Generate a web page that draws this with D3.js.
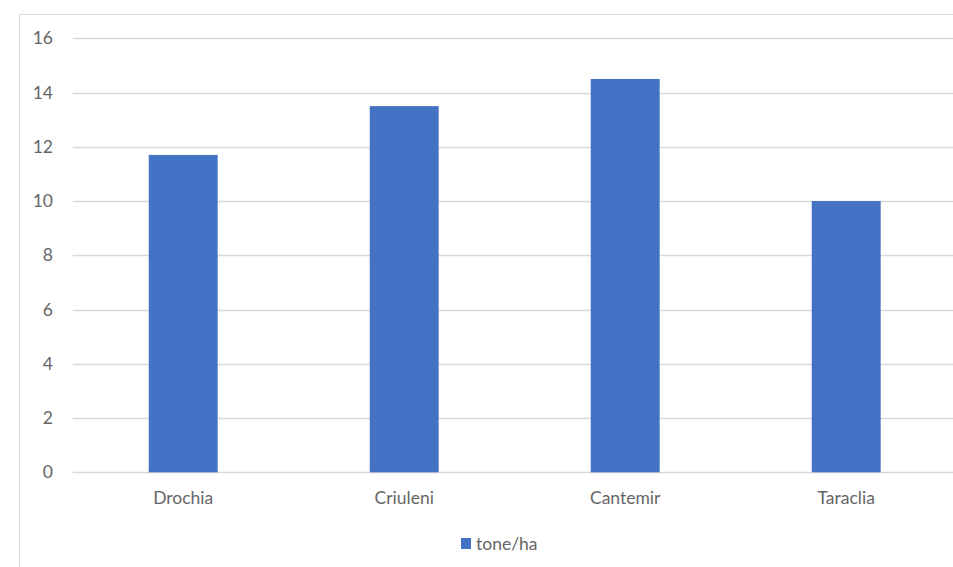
<!DOCTYPE html>
<html><head><meta charset="utf-8">
<script src="https://cdn.jsdelivr.net/npm/d3@7"></script>
<style>body{margin:0;background:#fff;}svg{display:block;}</style>
</head><body>
<svg id="chart" width="953" height="567"></svg>
<script>
const categories = ["Drochia", "Criuleni", "Cantemir", "Taraclia"];
const values = [11.7, 13.5, 14.5, 10.0];
const yTicks = [0, 2, 4, 6, 8, 10, 12, 14, 16];
const seriesName = "tone/ha";

(function () {
const svg = d3.select("#chart");
const font = "Lato, 'Open Sans', sans-serif";
const textColor = "#666666";
const fs = 17.5;

// outer chart border
svg.append("path").attr("d", "M19.5,567 L19.5,14.5 L953,14.5")
  .attr("fill", "none").attr("stroke", "#d9d9d9").attr("stroke-width", 1);

const plotL = 72.7, plotR = 956.7, plotT = 38.3, plotB = 472.3;
const x = d3.scaleBand().domain(categories).range([plotL, plotR]).paddingInner(0.688).paddingOuter(0.344);
const y = d3.scaleLinear().domain([0, 16]).range([plotB, plotT]);

// gridlines
svg.append("g").selectAll("line").data(yTicks).join("line")
  .attr("x1", plotL).attr("x2", plotR)
  .attr("y1", d => Math.round(y(d)) + 0.5).attr("y2", d => Math.round(y(d)) + 0.5)
  .attr("stroke", "#d9d9d9").attr("stroke-width", 1.3);

// y axis labels
const yAxis = d3.axisLeft(y).tickValues(yTicks).tickSize(0).tickPadding(0);
const gy = svg.append("g").attr("transform", `translate(${53},0)`).call(yAxis);
gy.select(".domain").remove();
gy.selectAll("text").attr("font-family", font).attr("font-size", fs).attr("fill", textColor);

// bars
svg.append("g").selectAll("rect").data(values).join("rect")
  .attr("x", (d, i) => x(categories[i]))
  .attr("width", x.bandwidth())
  .attr("y", d => y(d))
  .attr("height", d => y(0) - y(d))
  .attr("fill", "#4472C4");

// x axis labels
const xAxis = d3.axisBottom(x).tickSize(0).tickPadding(0);
const gx = svg.append("g").attr("transform", `translate(0,${plotB})`).call(xAxis);
gx.select(".domain").remove();
gx.selectAll("text").attr("font-family", font).attr("font-size", fs).attr("fill", textColor)
  .attr("y", 32).attr("dy", null);

// legend
const lg = svg.append("g").attr("transform", "translate(461,538)");
lg.append("rect").attr("x", 0).attr("y", 0).attr("width", 10).attr("height", 11).attr("fill", "#4472C4");
lg.append("text").attr("x", 15).attr("y", 12)
  .attr("font-family", font).attr("font-size", fs).attr("fill", textColor).text(seriesName);
})();
</script>
</body></html>
